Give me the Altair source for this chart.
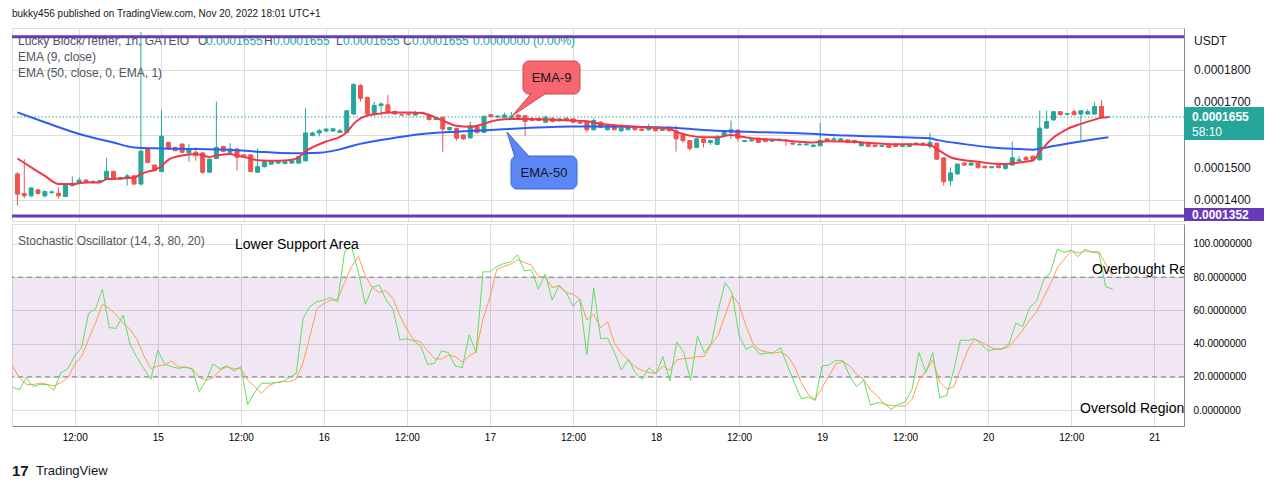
import json
import altair as alt
import pandas as pd

# ---------------- data (prices in units of 1e-7 USDT; hourly bars, hours after Nov 14 00:00) ----------------
HOUR = list(range(3, 163))

OPEN = [1481, 1421, 1414, 1432, 1414, 1424, 1422, 1412, 1445, 1453,
        1462, 1455, 1456, 1465, 1489, 1465, 1467, 1475, 1450, 1559,
        1508, 1488, 1577, 1562, 1572, 1545, 1547, 1545, 1486, 1528,
        1565, 1547, 1557, 1539, 1539, 1486, 1503, 1511, 1514, 1513,
        1514, 1514, 1521, 1598, 1606, 1612, 1612, 1608, 1608, 1664,
        1751, 1715, 1664, 1690, 1692, 1672, 1662, 1664, 1661, 1669,
        1661, 1647, 1654, 1616, 1620, 1600, 1591, 1625, 1608, 1662,
        1655, 1654, 1654, 1661, 1659, 1651, 1651, 1639, 1651, 1643,
        1651, 1649, 1639, 1641, 1616, 1639, 1616, 1630, 1613, 1616,
        1626, 1618, 1616, 1623, 1614, 1623, 1613, 1600, 1583, 1562,
        1588, 1577, 1571, 1598, 1608, 1615, 1580, 1582, 1590, 1588,
        1581, 1583, 1585, 1575, 1570, 1570, 1565, 1567, 1588, 1585,
        1580, 1585, 1583, 1567, 1577, 1569, 1565, 1572, 1572, 1565,
        1565, 1572, 1575, 1565, 1575, 1530, 1460, 1481, 1514, 1508,
        1514, 1504, 1500, 1506, 1498, 1508, 1521, 1531, 1535, 1524,
        1621, 1646, 1671, 1663, 1671, 1664, 1664, 1664, 1687, 1655]

HIGH = [1486, 1526, 1440, 1435, 1430, 1430, 1440, 1452, 1473, 1470,
        1465, 1461, 1462, 1530, 1490, 1472, 1481, 1477, 1915, 1562,
        1510, 1676, 1580, 1564, 1575, 1572, 1562, 1548, 1528, 1702,
        1567, 1575, 1560, 1542, 1541, 1559, 1520, 1522, 1521, 1520,
        1524, 1536, 1683, 1610, 1618, 1621, 1622, 1619, 1676, 1758,
        1756, 1717, 1702, 1700, 1722, 1674, 1665, 1666, 1674, 1671,
        1664, 1652, 1657, 1625, 1622, 1602, 1641, 1628, 1659, 1664,
        1660, 1668, 1670, 1663, 1661, 1653, 1653, 1660, 1653, 1652,
        1653, 1651, 1642, 1644, 1651, 1641, 1632, 1632, 1623, 1627,
        1628, 1620, 1633, 1625, 1619, 1625, 1628, 1602, 1585, 1590,
        1590, 1585, 1600, 1610, 1644, 1617, 1585, 1587, 1592, 1590,
        1587, 1589, 1587, 1577, 1574, 1574, 1571, 1637, 1590, 1595,
        1590, 1587, 1585, 1579, 1579, 1571, 1569, 1574, 1574, 1569,
        1574, 1577, 1577, 1606, 1577, 1532, 1501, 1513, 1516, 1516,
        1516, 1506, 1505, 1508, 1510, 1580, 1535, 1537, 1537, 1674,
        1674, 1673, 1673, 1667, 1679, 1676, 1679, 1700, 1708, 1655]

LOW = [1384, 1406, 1410, 1418, 1409, 1420, 1406, 1410, 1443, 1451,
       1452, 1452, 1454, 1463, 1463, 1463, 1445, 1448, 1445, 1514,
       1489, 1486, 1555, 1550, 1545, 1518, 1521, 1481, 1484, 1526,
       1548, 1545, 1491, 1533, 1486, 1484, 1501, 1509, 1512, 1511,
       1512, 1512, 1519, 1596, 1596, 1610, 1610, 1606, 1606, 1662,
       1702, 1660, 1659, 1659, 1664, 1662, 1659, 1660, 1659, 1665,
       1644, 1645, 1549, 1614, 1583, 1586, 1589, 1603, 1606, 1654,
       1653, 1652, 1652, 1652, 1596, 1642, 1642, 1637, 1639, 1641,
       1642, 1637, 1634, 1608, 1614, 1621, 1614, 1614, 1608, 1614,
       1614, 1612, 1614, 1611, 1612, 1611, 1549, 1575, 1552, 1560,
       1562, 1569, 1569, 1596, 1588, 1580, 1578, 1580, 1575, 1578,
       1579, 1581, 1567, 1570, 1568, 1568, 1563, 1565, 1580, 1583,
       1578, 1575, 1572, 1565, 1563, 1563, 1563, 1560, 1563, 1563,
       1563, 1570, 1567, 1559, 1524, 1445, 1445, 1479, 1506, 1506,
       1496, 1498, 1498, 1498, 1494, 1506, 1519, 1522, 1524, 1522,
       1619, 1644, 1660, 1661, 1660, 1583, 1662, 1662, 1652, 1655]

CLOSE = [1419, 1414, 1438, 1421, 1427, 1426, 1414, 1450, 1452, 1462,
         1455, 1458, 1460, 1489, 1465, 1470, 1475, 1450, 1550, 1516,
         1491, 1596, 1557, 1552, 1547, 1555, 1537, 1486, 1526, 1562,
         1550, 1557, 1532, 1535, 1488, 1503, 1518, 1520, 1519, 1518,
         1521, 1534, 1606, 1606, 1613, 1618, 1619, 1613, 1674, 1754,
         1712, 1664, 1690, 1695, 1669, 1664, 1661, 1662, 1669, 1667,
         1647, 1650, 1618, 1623, 1590, 1588, 1628, 1608, 1657, 1656,
         1658, 1661, 1657, 1654, 1641, 1644, 1644, 1654, 1641, 1649,
         1644, 1639, 1636, 1616, 1644, 1623, 1628, 1616, 1621, 1625,
         1616, 1614, 1623, 1613, 1617, 1613, 1588, 1583, 1559, 1588,
         1577, 1583, 1591, 1608, 1616, 1590, 1583, 1585, 1577, 1580,
         1585, 1587, 1583, 1572, 1572, 1572, 1569, 1583, 1582, 1588,
         1588, 1577, 1577, 1577, 1565, 1565, 1567, 1562, 1565, 1567,
         1572, 1575, 1569, 1577, 1526, 1457, 1484, 1511, 1508, 1514,
         1501, 1500, 1503, 1500, 1508, 1530, 1524, 1524, 1526, 1621,
         1641, 1671, 1662, 1665, 1662, 1674, 1671, 1687, 1655, 1655]

EMA9_H = [3, 5, 7, 9, 11, 13, 15, 16, 18, 20, 21, 22, 23, 24, 25, 27, 29, 31, 32, 34, 35, 37, 38, 41, 43,
          44, 45, 46, 48, 50, 51, 52, 53, 54, 56, 57, 60, 62, 63, 65, 67, 69, 70, 72, 73, 75, 77, 80, 84,
          86, 88, 91, 93, 95, 98, 99, 101, 103, 105, 107, 108, 110, 113, 116, 119, 121, 125, 127, 130, 133,
          136, 137, 139, 141, 143, 145, 147, 149, 151, 152, 153, 154, 155, 156, 158, 160, 161, 162]
EMA9_V = [1528, 1501, 1475, 1450, 1450, 1455, 1455, 1465, 1467, 1470, 1480, 1488, 1493, 1505, 1524, 1537, 1542,
          1533, 1537, 1542, 1537, 1528, 1523, 1521, 1524, 1532, 1550, 1562, 1580, 1594, 1608, 1634, 1651, 1659,
          1666, 1669, 1669, 1667, 1661, 1644, 1628, 1625, 1628, 1641, 1646, 1649, 1649, 1647, 1644, 1642, 1634,
          1628, 1625, 1623, 1619, 1610, 1598, 1593, 1593, 1600, 1597, 1590, 1586, 1581, 1577, 1581, 1579, 1576,
          1572, 1572, 1569, 1557, 1532, 1523, 1518, 1513, 1511, 1516, 1522, 1548, 1572, 1592, 1606, 1618, 1634,
          1647, 1653, 1654]

EMA50_H = [3, 7, 12, 17, 20, 24, 29, 34, 38, 43, 47, 50, 52, 57, 62, 67, 72, 76, 84, 88, 93, 98, 103, 107,
           112, 117, 124, 129, 133, 136, 137, 141, 145, 149, 151, 153, 157, 162]
EMA50_V = [1669, 1639, 1603, 1577, 1562, 1559, 1557, 1555, 1549, 1544, 1546, 1556, 1568, 1588, 1603, 1610, 1615,
           1620, 1626, 1626, 1625, 1623, 1615, 1611, 1608, 1605, 1598, 1595, 1592, 1590, 1585, 1572, 1562, 1557,
           1555, 1562, 1577, 1593]

STOCH_K = [13.9, 12.1, 19.5, 14.1, 15.5, 15.3, 11.9, 22.5, 24.9, 32.6,
           37.6, 58.3, 60.7, 72.8, 49.6, 49.2, 57.1, 39.6, 31.6, 24.9,
           18.5, 36.0, 27.5, 26.1, 25.1, 25.9, 24.5, 10.9, 18.1, 27.7,
           24.9, 26.5, 23.5, 26.1, 3.4, 10.5, 16.1, 16.1, 16.5, 17.1,
           19.5, 22.0, 55.1, 62.3, 65.3, 66.1, 67.7, 65.1, 95.3, 98.5,
           82.8, 63.7, 73.8, 75.2, 66.3, 60.7, 42.2, 43.0, 41.6, 38.6,
           27.5, 28.1, 35.6, 34.6, 26.5, 25.5, 45.2, 34.6, 83.2, 83.2,
           86.4, 88.2, 89.2, 93.5, 83.8, 84.4, 72.8, 81.8, 66.3, 75.2,
           70.8, 62.7, 66.7, 33.2, 73.4, 43.0, 43.4, 34.6, 24.1, 30.6,
           22.5, 18.5, 25.5, 21.9, 32.2, 17.5, 41.0, 34.6, 17.9, 44.6,
           34.2, 40.2, 60.3, 76.8, 70.4, 45.0, 36.6, 38.6, 33.6, 34.2,
           34.6, 37.6, 26.5, 16.5, 6.8, 7.8, 5.8, 26.5, 27.1, 29.9,
           29.9, 20.5, 14.1, 18.1, 3.0, 4.4, 4.0, 0.4, 3.4, 4.8,
           12.5, 34.6, 22.5, 34.6, 7.4, 8.8, 23.5, 42.2, 41.8, 43.0,
           39.6, 35.6, 36.6, 37.0, 39.6, 52.3, 50.3, 61.7, 65.7, 78.2,
           82.8, 96.9, 94.9, 96.3, 92.3, 96.9, 94.9, 94.5, 74.2, 72.8]

STOCH_D = [26.5, 19.5, 15.5, 15.3, 16.3, 15.5, 14.5, 16.5, 19.5, 27.5,
           32.2, 42.6, 52.3, 63.7, 61.1, 57.3, 52.3, 48.6, 42.6, 32.6,
           24.9, 26.5, 27.1, 29.5, 25.9, 25.9, 24.9, 19.5, 17.9, 19.5,
           23.9, 26.1, 24.9, 24.9, 18.1, 14.1, 10.1, 14.5, 16.5, 17.1,
           17.1, 18.7, 28.5, 44.6, 61.1, 64.1, 66.1, 66.7, 76.8, 86.4,
           92.5, 80.8, 73.8, 70.8, 71.8, 67.1, 56.7, 48.6, 42.2, 41.0,
           35.6, 31.0, 30.6, 33.0, 32.2, 28.9, 32.6, 35.0, 54.7, 67.7,
           84.8, 86.4, 87.8, 90.5, 88.8, 87.2, 80.4, 79.8, 73.8, 74.8,
           70.8, 69.7, 66.7, 54.1, 57.7, 49.6, 53.1, 40.2, 34.2, 30.2,
           25.9, 23.9, 22.5, 22.1, 26.5, 23.9, 30.2, 31.0, 31.2, 32.2,
           32.2, 39.6, 45.2, 57.3, 69.1, 63.7, 50.7, 40.2, 36.0, 35.0,
           34.2, 35.0, 32.6, 26.5, 16.5, 9.4, 6.4, 13.5, 20.5, 27.9,
           29.1, 26.5, 21.5, 18.5, 12.1, 8.4, 3.4, 2.8, 2.4, 2.4,
           6.4, 18.1, 23.5, 30.2, 16.9, 12.5, 13.9, 24.5, 35.6, 42.6,
           41.0, 38.6, 36.6, 36.6, 38.2, 43.0, 48.0, 54.3, 59.1, 67.7,
           75.8, 85.8, 90.9, 95.9, 94.5, 95.7, 95.3, 95.3, 87.8, 80.4]

X_TICKS = [12, 24, 36, 48, 60, 72, 84, 96, 108, 120, 132, 144, 156, 168]
X_LABELS = ["12:00", "15", "12:00", "16", "12:00", "17", "12:00", "18",
            "12:00", "19", "12:00", "20", "12:00", "21"]
P_GRID = [1400, 1500, 1600, 1700, 1800, 1900]
P_LABEL_VALUES = [1400, 1500, 1700, 1800]
P_LABELS = ["0.0001400", "0.0001500", "0.0001700", "0.0001800"]
S_TICKS = [0, 20, 40, 60, 80, 100]
S_LABELS = ["0.0000000", "20.0000000", "40.0000000", "60.0000000", "80.0000000", "100.0000000"]
PURPLE_LEVELS = [1900, 1352]
LAST_PRICE = [1655]
STOCH_BANDS = [20, 80]

# ---------------- styling ----------------
W, H1, H2 = 1172, 193, 202
FONT = "Liberation Sans"
GREEN, RED = "#26a69a", "#ef5350"
EMA9_COLOR, EMA50_COLOR = "#f23645", "#2f5cf2"
PURPLE = "#673ab7"
K_COLOR, D_COLOR = "#5be35b", "#ff9d4d"
TXT = "#131722"
GRAY = "#50535e"
GRID = "#e6eaf0"

ONE = pd.DataFrame({"k": [0]})


def expr_from(ticks, labels):
    return f"{json.dumps(labels)}[indexof({json.dumps(ticks)}, datum.value)]"


def label(text, x, y, color=TXT, size=12, weight="normal", align="left", baseline="middle", clip=False):
    return alt.Chart(ONE).mark_text(
        text=text, align=align, baseline=baseline, font=FONT, fontSize=size,
        fontWeight=weight, color=color, clip=clip
    ).encode(x=alt.value(x), y=alt.value(y))


def box(x1, x2, y1, y2, fill, stroke=None, radius=0):
    kw = dict(fill=fill, cornerRadius=radius, opacity=1)
    if stroke:
        kw.update(stroke=stroke, strokeWidth=1)
    return alt.Chart(ONE).mark_rect(**kw).encode(
        x=alt.value(x1), x2=alt.value(x2), y=alt.value(y1), y2=alt.value(y2))


def pointer(x, y, path, size, fill, stroke):
    return alt.Chart(ONE).mark_point(
        shape=path, size=size, filled=True, fill=fill, stroke=stroke,
        strokeWidth=1, opacity=1
    ).encode(x=alt.value(x), y=alt.value(y))


x_scale = alt.Scale(domain=[2.94, 172.3], nice=False, zero=False)
p_scale = alt.Scale(domain=[1337, 1927], nice=False, zero=False)
s_scale = alt.Scale(domain=[-9.6, 112], nice=False, zero=False)
dir_scale = alt.Scale(domain=["up", "down"], range=[GREEN, RED])

# ---------------- price pane ----------------
bars = pd.DataFrame({"h": HOUR, "o": OPEN, "hi": HIGH, "lo": LOW, "c": CLOSE})
bars["dir"] = ["up" if c >= o else "down" for o, c in zip(OPEN, CLOSE)]

price_x_axis = alt.Axis(values=X_TICKS, labels=False, ticks=False, domain=False, grid=True, title=None)
price_y_axis = alt.Axis(orient="right", values=P_GRID, labels=False, ticks=False, grid=True,
                        domain=True, title=None)

wicks = alt.Chart(bars).mark_rule(strokeWidth=1, clip=True).encode(
    x=alt.X("h:Q", scale=x_scale, axis=price_x_axis),
    y=alt.Y("lo:Q", scale=p_scale, axis=price_y_axis),
    y2="hi:Q",
    color=alt.Color("dir:N", scale=dir_scale, legend=None),
)
bodies = alt.Chart(bars).mark_bar(size=4, strokeWidth=1, clip=True).encode(
    x=alt.X("h:Q", title=None),
    y=alt.Y("o:Q", title=None),
    y2="c:Q",
    fill=alt.Fill("dir:N", scale=dir_scale, legend=None),
    stroke=alt.Stroke("dir:N", scale=dir_scale, legend=None),
)
ema9 = alt.Chart(pd.DataFrame({"h": EMA9_H, "v": EMA9_V})).mark_line(
    color=EMA9_COLOR, strokeWidth=2, interpolate="monotone", clip=True
).encode(x=alt.X("h:Q", title=None), y=alt.Y("v:Q", title=None))
ema50 = alt.Chart(pd.DataFrame({"h": EMA50_H, "v": EMA50_V})).mark_line(
    color=EMA50_COLOR, strokeWidth=2, interpolate="monotone", clip=True
).encode(x=alt.X("h:Q", title=None), y=alt.Y("v:Q", title=None))
last_line = alt.Chart(pd.DataFrame({"p": LAST_PRICE})).mark_rule(
    color=GREEN, strokeDash=[1.5, 2], strokeWidth=1
).encode(y=alt.Y("p:Q", title=None))
purple = alt.Chart(pd.DataFrame({"p": PURPLE_LEVELS})).mark_rule(
    color=PURPLE, strokeWidth=3
).encode(y=alt.Y("p:Q", title=None))

# price-axis labels as text placed through the y scale
price_labels = alt.Chart(pd.DataFrame({"p": P_LABEL_VALUES, "t": P_LABELS})).mark_text(
    align="left", baseline="middle", font=FONT, fontSize=12, color=TXT
).encode(x=alt.value(W + 10), y=alt.Y("p:Q", title=None), text="t:N")

legend_gray = "#50535e"
legend = [
    label("Lucky Block/Tether, 1h, GATEIO", 6, 13, legend_gray),
    label("O", 186, 13, legend_gray), label("0.0001655", 194, 13, GREEN),
    label("H", 252, 13, legend_gray), label("0.0001655", 261, 13, GREEN),
    label("L", 324, 13, legend_gray), label("0.0001655", 331, 13, GREEN),
    label("C", 391, 13, legend_gray), label("0.0001655", 400, 13, GREEN),
    label("0.0000000 (0.00%)", 461, 13, GREEN),
    label("EMA (9, close)", 6, 29, legend_gray),
    label("EMA (50, close, 0, EMA, 1)", 6, 45, legend_gray),
]

callouts = [
    box(511, 568, 33, 66, "#f6676f", "#d4444d", 6),
    pointer(517.5, 76.25, "M 0.213 -1 L -1.489 1 L 1.489 -1", 552, "#f6676f", "#d4444d"),
    label("EMA-9", 539.5, 50, TXT, 13, align="center"),
    box(499, 565, 128, 161, "#5b87f6", "#3d67d6", 6),
    pointer(506.5, 116.75, "M -0.275 1 L -0.902 -1 L 0.902 1", 650, "#5b87f6", "#3d67d6"),
    label("EMA-50", 532, 145, TXT, 13, align="center"),
]

axis_tags = [
    label("USDT", 1182, 13, TXT),
    box(1172, 1252, 79, 112, GREEN),
    label("0.0001655", 1180, 89, "white", 12, "bold"),
    label("58:10", 1180, 104, "white", 12),
    box(1172, 1252, 180, 193, PURPLE),
    label("0.0001352", 1180, 187, "white", 12, "bold"),
    label("bukky456 published on TradingView.com, Nov 20, 2022 18:01 UTC+1", 0, -19, TXT, 10, baseline="top"),
]

price = alt.layer(
    wicks, bodies, last_line, ema50, ema9, *legend, purple, *callouts, price_labels, *axis_tags
).properties(width=W, height=H1)

# ---------------- stochastic pane ----------------
stoch = pd.DataFrame({"h": HOUR, "k": STOCH_K, "d": STOCH_D})
stoch_x_axis = alt.Axis(values=X_TICKS, labelExpr=expr_from(X_TICKS, X_LABELS), ticks=False, domain=True,
                        grid=True, labelPadding=6, title=None, labelFlush=False)
stoch_y_axis = alt.Axis(orient="right", values=S_TICKS, labelExpr=expr_from(S_TICKS, S_LABELS),
                        labelOverlap=False, ticks=False, grid=True, domain=True, labelPadding=9, title=None)

band = alt.Chart(pd.DataFrame({"lo": [STOCH_BANDS[0]], "hi": [STOCH_BANDS[1]]})).mark_rect(
    fill="#7e1f8f", opacity=0.11
).encode(x=alt.value(0), x2=alt.value(W), y=alt.Y("hi:Q", title=None), y2="lo:Q")
dashed = alt.Chart(pd.DataFrame({"v": STOCH_BANDS})).mark_rule(
    color="#787b86", strokeDash=[5, 4], strokeWidth=1
).encode(y=alt.Y("v:Q", title=None))
dline = alt.Chart(stoch).mark_line(color=D_COLOR, strokeWidth=1, clip=True).encode(
    x=alt.X("h:Q", scale=x_scale, axis=stoch_x_axis),
    y=alt.Y("d:Q", scale=s_scale, axis=stoch_y_axis),
)
kline = alt.Chart(stoch).mark_line(color=K_COLOR, strokeWidth=1, clip=True).encode(
    x=alt.X("h:Q", title=None), y=alt.Y("k:Q", title=None))

stoch_texts = [
    label("Stochastic Oscillator (14, 3, 80, 20)", 6, 17, legend_gray),
    label("Lower Support Area", 223, 21, "#000000", 14),
    label("Overbought Region", 1080, 46, "#000000", 14, clip=True),
    label("Oversold Region", 1068, 185, "#000000", 14, clip=True),
    label("17", 0, 247, TXT, 15, "bold"),
    label("TradingView", 24, 247, TXT, 13),
]

stoch_chart = alt.layer(band, dashed, dline, kline, *stoch_texts).properties(width=W, height=H2)

chart = alt.vconcat(price, stoch_chart, spacing=1).properties(
    padding={"left": 2, "top": 0, "right": 0, "bottom": 0}
).configure_view(stroke="#e0e3eb").configure_axis(
    labelFont=FONT, labelFontSize=12, labelColor=TXT, gridColor=GRID, domainColor=GRAY,
    labelOverlap=False
).configure(background="white")

chart.save("out.html", embed_options={"renderer": "svg", "actions": False})
